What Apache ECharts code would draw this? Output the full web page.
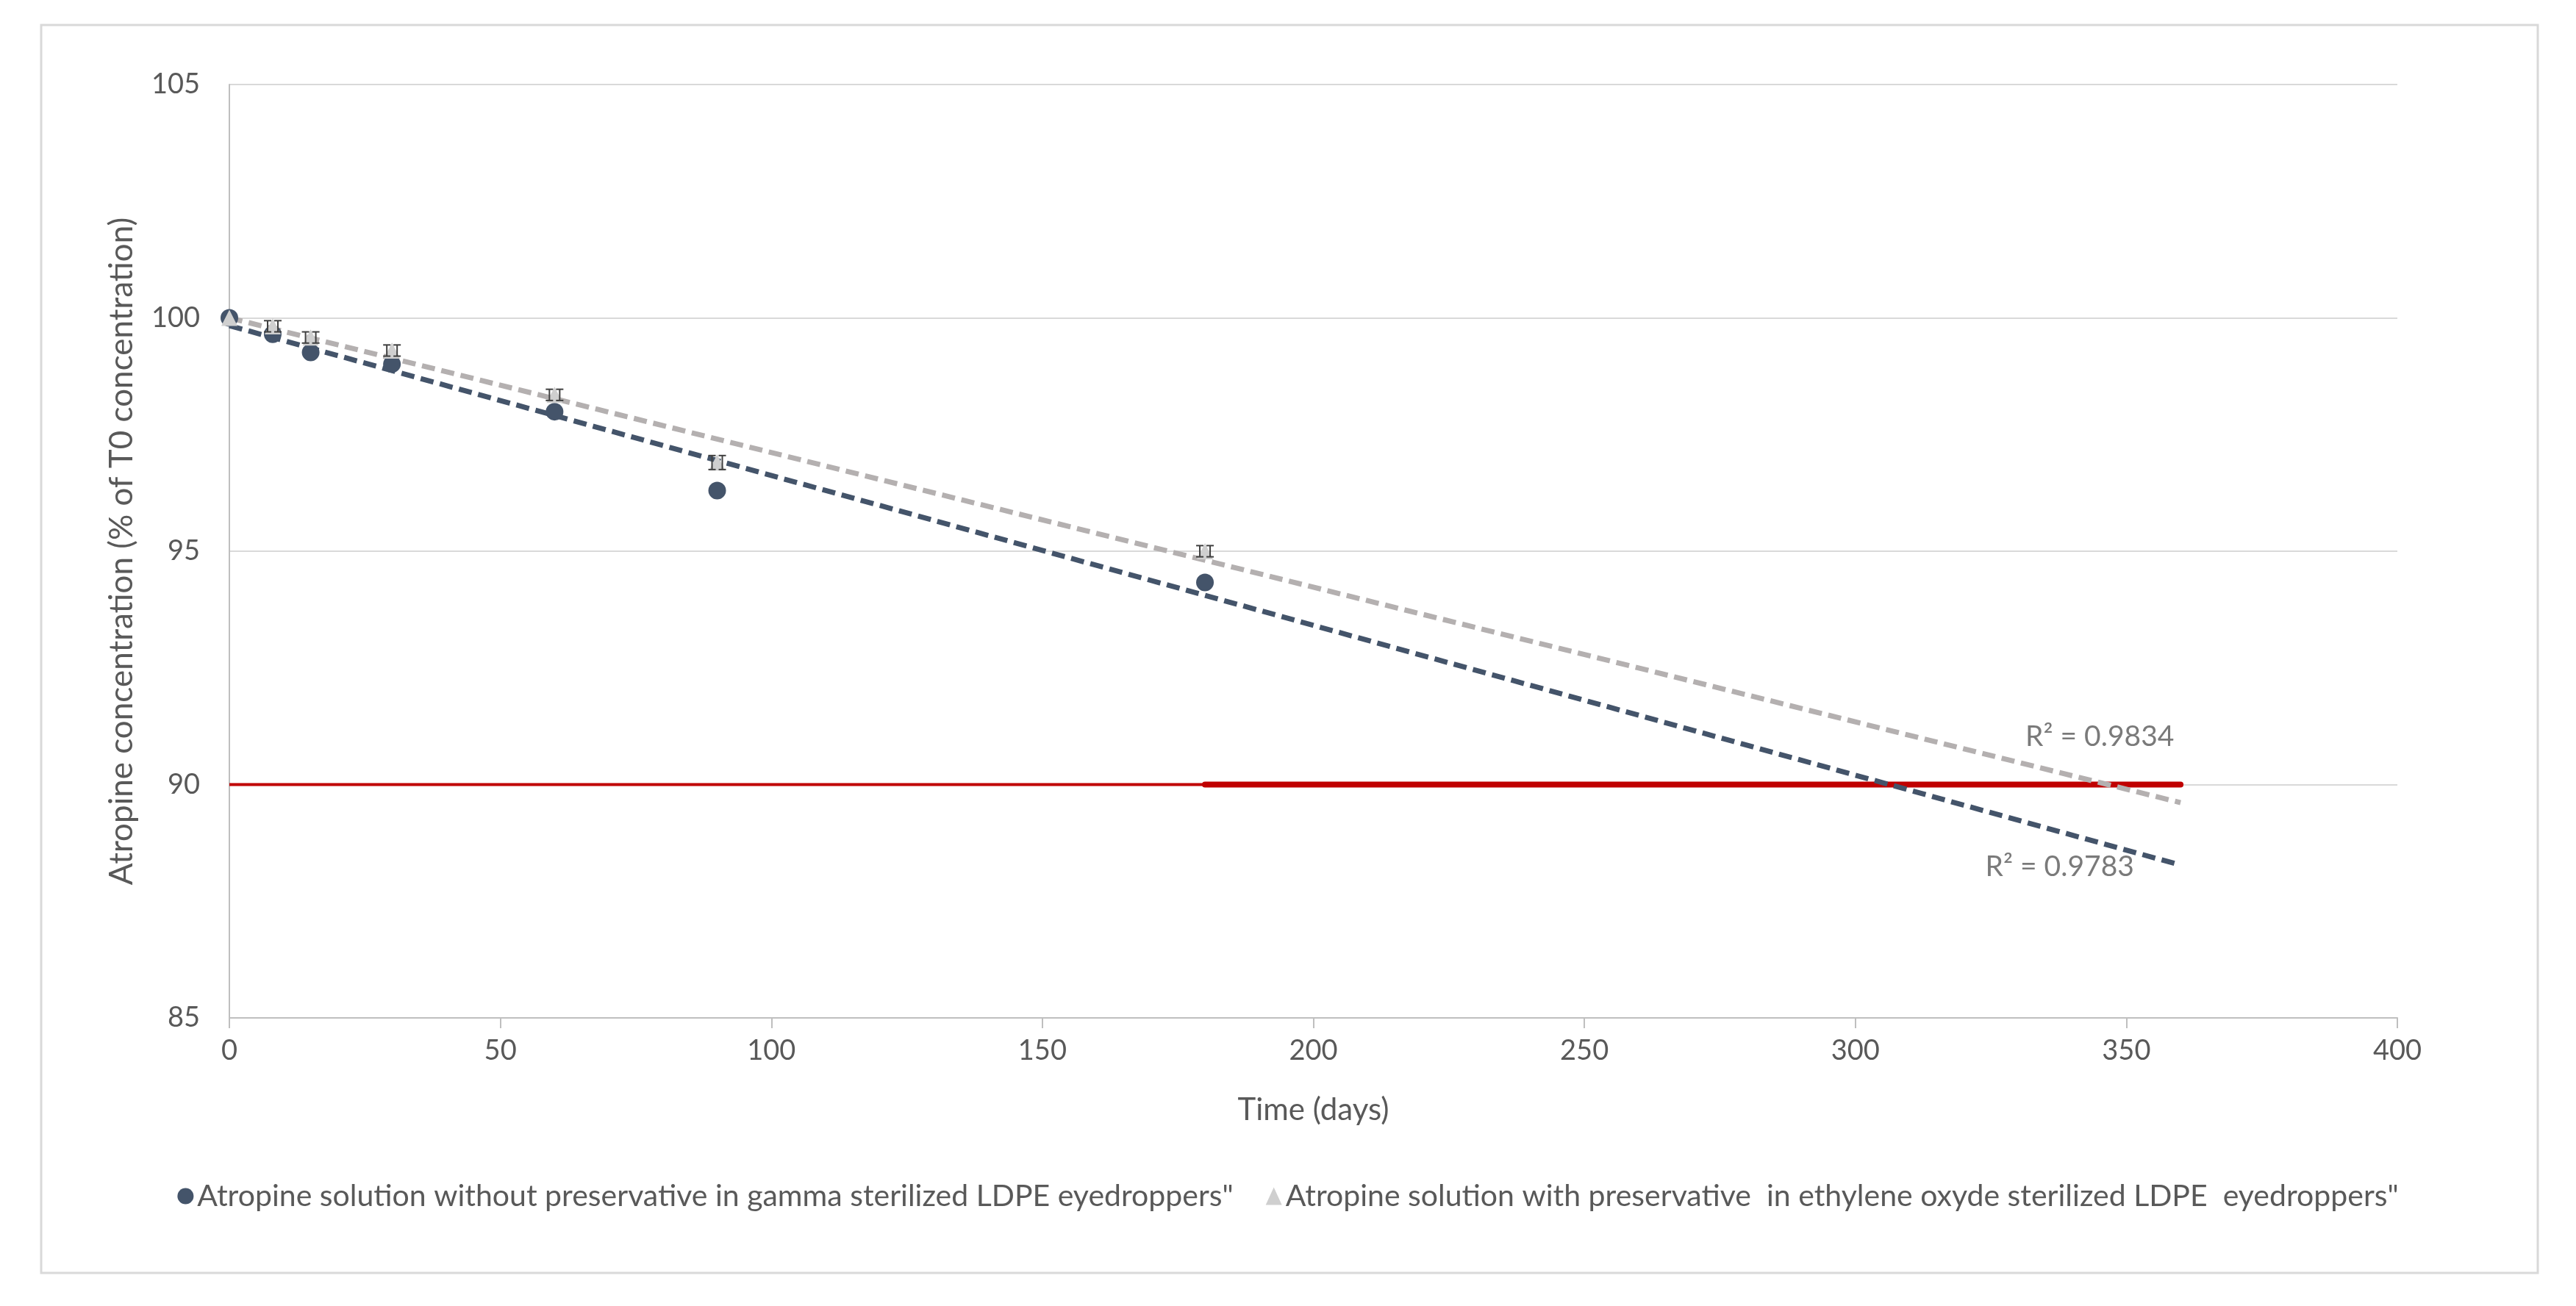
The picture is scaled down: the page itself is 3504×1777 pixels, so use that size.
<!DOCTYPE html>
<html>
<head>
<meta charset="utf-8">
<script src="https://cdn.jsdelivr.net/npm/echarts@6/dist/echarts.min.js"></script>
<style>
html,body{margin:0;padding:0;background:#fff;}
#chart{width:3504px;height:1777px;}
</style>
</head>
<body>
<div id="chart"></div>
<script>
// ---- data ----
const days = [0, 8, 15, 30, 60, 90, 180];
const gammaValues = [100, 99.65, 99.26, 99.01, 97.99, 96.30, 94.33];
const oxideValues = [100, 99.82, 99.58, 99.30, 98.35, 96.90, 95.00];
const oxideErrors = [0, 0.12, 0.12, 0.12, 0.12, 0.15, 0.12];
const seriesNames = [
  'Atropine solution without preservative in gamma sterilized LDPE eyedroppers"',
  'Atropine solution with preservative  in ethylene oxyde sterilized LDPE  eyedroppers"'
];
const trendEnd = 360;
const limitValue = 90;
const limitSplit = 180;
const r2Labels = ['R² = 0.9783', 'R² = 0.9834'];
const r2Positions = [[337.7, 88.24], [345.1, 91.03]];
const xTicks = [0, 400, 50];
const yTicks = [85, 105, 5];

function linFit(xs, ys) {
  const n = xs.length;
  const mx = xs.reduce((a, b) => a + b, 0) / n;
  const my = ys.reduce((a, b) => a + b, 0) / n;
  let sxy = 0, sxx = 0;
  for (let i = 0; i < n; i++) { sxy += (xs[i] - mx) * (ys[i] - my); sxx += (xs[i] - mx) ** 2; }
  const b = sxy / sxx;
  const a = my - b * mx;
  return x => a + b * x;
}
const fitGamma = linFit(days, gammaValues);
const fitOxide = linFit(days, oxideValues);

const DARK = '#44546A';
const TRI = '#CFCFCF';
const TREND_GRAY = '#B4B0B0';
const TXT = '#595959';
const FONT = 'Lato, "Open Sans", sans-serif';

const chart = echarts.init(document.getElementById('chart'));
const option = {
  backgroundColor: '#fff',
  animation: false,
  graphic: [{
    type: 'rect', shape: { x: 56, y: 34, width: 3396, height: 1698 },
    style: { fill: 'none', stroke: '#D9D9D9', lineWidth: 3 }, z: -10
  }],
  grid: { left: 312, right: 243, top: 115, bottom: 392 },
  legend: {
    data: [
      { name: seriesNames[0], icon: 'circle' },
      { name: seriesNames[1], icon: 'triangle', itemStyle: { color: TRI } }
    ],
    bottom: 124, left: 'center', itemWidth: 22, itemHeight: 24, itemGap: 44,
    textStyle: { color: TXT, fontSize: 41, fontFamily: FONT }
  },
  xAxis: {
    type: 'value', min: xTicks[0], max: xTicks[1], interval: xTicks[2],
    name: 'Time (days)', nameLocation: 'middle', nameGap: 104,
    nameTextStyle: { color: TXT, fontSize: 42, fontFamily: FONT },
    axisLine: { lineStyle: { color: '#BFBFBF', width: 2 } },
    axisTick: { show: true, length: 14, lineStyle: { color: '#BFBFBF', width: 2 } },
    axisLabel: { color: TXT, fontSize: 38, fontFamily: FONT, margin: 26 },
    splitLine: { show: false }
  },
  yAxis: {
    type: 'value', min: yTicks[0], max: yTicks[1], interval: yTicks[2],
    name: 'Atropine concentration (% of T0 concentration)', nameLocation: 'middle', nameGap: 124,
    nameTextStyle: { color: TXT, fontSize: 44, fontFamily: FONT },
    axisLine: { show: true, lineStyle: { color: '#BFBFBF', width: 2 } },
    axisTick: { show: false },
    axisLabel: { color: TXT, fontSize: 38, fontFamily: FONT, margin: 40 },
    splitLine: { show: true, lineStyle: { color: '#D9D9D9', width: 2 } }
  },
  series: [
    {
      type: 'line', name: 'limitThin', silent: true, symbol: 'none', z: 1,
      data: [[0, limitValue], [limitSplit, limitValue]],
      lineStyle: { color: '#C00000', width: 4 }
    },
    {
      type: 'line', name: 'limitThick', silent: true, symbol: 'none', z: 1,
      data: [[limitSplit, limitValue], [trendEnd, limitValue]],
      lineStyle: { color: '#C00000', width: 8, cap: 'round' }
    },
    {
      type: 'line', name: 'trendOxide', silent: true, symbol: 'none', z: 2,
      data: [[0, fitOxide(0)], [trendEnd, fitOxide(trendEnd)]],
      lineStyle: { color: TREND_GRAY, width: 7, type: [18, 9] }
    },
    {
      type: 'line', name: 'trendGamma', silent: true, symbol: 'none', z: 2,
      data: [[0, fitGamma(0)], [trendEnd, fitGamma(trendEnd)]],
      lineStyle: { color: DARK, width: 7, type: [18, 9] }
    },
    {
      type: 'scatter', name: seriesNames[0], z: 5,
      symbol: 'circle', symbolSize: 24,
      itemStyle: { color: DARK, opacity: 1 },
      data: days.map((d, i) => [d, gammaValues[i]])
    },
    {
      type: 'scatter', name: seriesNames[1], z: 6,
      symbol: 'triangle', symbolSize: 22,
      itemStyle: { color: TRI, opacity: 1 },
      data: days.map((d, i) => [d, oxideValues[i]])
    },
    {
      type: 'custom', name: 'errOxide', silent: true, z: 7,
      data: days.map((d, i) => [d, oxideValues[i], oxideErrors[i]]),
      renderItem: function (params, api) {
        const x = api.value(0), y = api.value(1), e = api.value(2);
        if (!e) return null;
        const top = api.coord([x, y + e]);
        const bot = api.coord([x, y - e]);
        const children = [];
        [-7, 7].forEach(off => {
          const px = top[0] + off;
          children.push({ type: 'line', shape: { x1: px, y1: top[1], x2: px, y2: bot[1] }, style: { stroke: '#404040', lineWidth: 2 } });
          children.push({ type: 'line', shape: { x1: px - 5, y1: top[1], x2: px + 5, y2: top[1] }, style: { stroke: '#404040', lineWidth: 2 } });
          children.push({ type: 'line', shape: { x1: px - 5, y1: bot[1], x2: px + 5, y2: bot[1] }, style: { stroke: '#404040', lineWidth: 2 } });
        });
        return { type: 'group', children: children };
      }
    },
    {
      type: 'scatter', name: 'r2', silent: true, z: 8,
      symbolSize: 0,
      data: r2Positions.map((p, i) => ({ value: p, label: { formatter: r2Labels[i] } })),
      label: { show: true, position: 'inside', color: TXT, fontSize: 39, fontFamily: FONT }
    }
  ]
};
chart.setOption(option);
</script>
</body>
</html>
